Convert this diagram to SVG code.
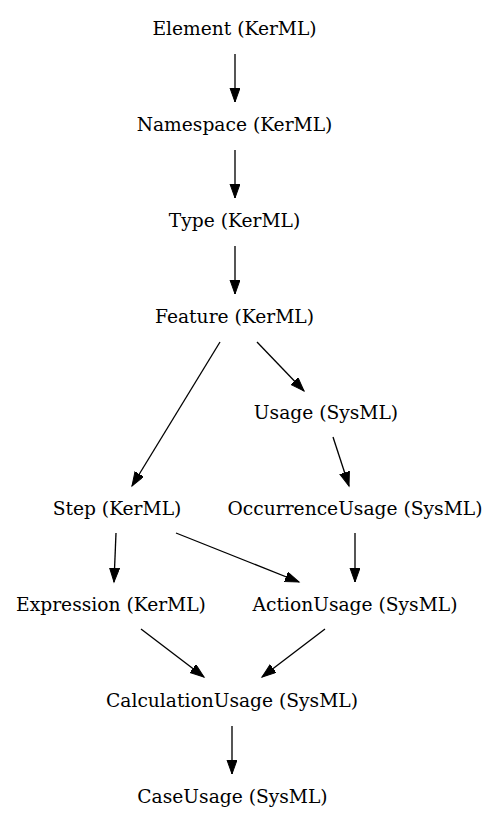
<svg xmlns="http://www.w3.org/2000/svg" width="499" height="827" viewBox="0 0 499 827">
<style>
text{font-family:"DejaVu Serif",serif;font-size:18.67px;fill:#000;text-anchor:middle}
.e line{stroke:#000;stroke-width:1.33;fill:none;marker-end:url(#ah)}
</style>
<defs>
<marker id="ah" markerUnits="userSpaceOnUse" markerWidth="16" markerHeight="12" refX="14" refY="5" orient="auto">
<path d="M0,0 L14,5 L0,10 Z" fill="#000" stroke="#000" stroke-width="1"/>
</marker>
</defs>
<rect width="499" height="827" fill="#fff"/>
<g id="connectors" class="e">
<line x1="235" y1="54" x2="235" y2="102"/>
<line x1="235" y1="150" x2="235" y2="198"/>
<line x1="235" y1="246" x2="235" y2="294"/>
<line x1="220" y1="342" x2="132" y2="486"/>
<line x1="257" y1="342" x2="304" y2="391"/>
<line x1="333" y1="437" x2="349" y2="486"/>
<line x1="116" y1="533" x2="114" y2="582"/>
<line x1="176" y1="533" x2="299" y2="582"/>
<line x1="355" y1="533" x2="355" y2="582"/>
<line x1="141" y1="629" x2="204" y2="677"/>
<line x1="325" y1="629" x2="262" y2="677"/>
<line x1="232" y1="726" x2="232" y2="774"/>
</g>
<g id="element"><text x="234.5" y="34.5">Element (KerML)</text></g>
<g id="namespace"><text x="234.5" y="130.5">Namespace (KerML)</text></g>
<g id="type"><text x="234.5" y="226.5">Type (KerML)</text></g>
<g id="feature"><text x="234.5" y="322.5">Feature (KerML)</text></g>
<g id="usage"><text x="326" y="418.5">Usage (SysML)</text></g>
<g id="step"><text x="117" y="514.5">Step (KerML)</text></g>
<g id="occurrenceusage"><text x="355" y="514.5">OccurrenceUsage (SysML)</text></g>
<g id="expression"><text x="111" y="610.5">Expression (KerML)</text></g>
<g id="actionusage"><text x="355" y="610.5">ActionUsage (SysML)</text></g>
<g id="calculationusage"><text x="232" y="706.5">CalculationUsage (SysML)</text></g>
<g id="caseusage"><text x="232.5" y="802.5">CaseUsage (SysML)</text></g>
</svg>
